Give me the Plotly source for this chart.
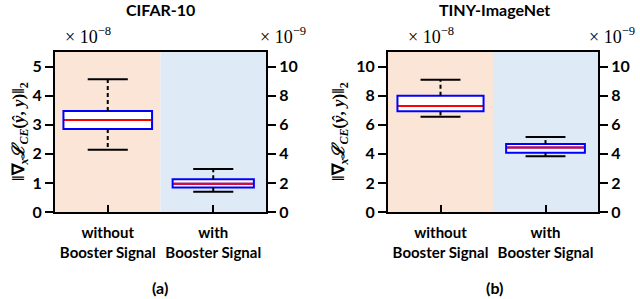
import plotly.graph_objects as go

# ---------------- data ----------------
categories = ["without<br>Booster Signal", "with<br>Booster Signal"]
positions = [0, 1]

# CIFAR-10 (left box on x1e-8 axis, right box on x1e-9 axis)
cifar_upper = [4.56, 2.95]
cifar_q3 = [3.47, 2.25]
cifar_median = [3.16, 1.95]
cifar_q1 = [2.85, 1.68]
cifar_lower = [2.14, 1.40]

# TINY-ImageNet
tiny_upper = [9.10, 5.15]
tiny_q3 = [8.00, 4.67]
tiny_median = [7.29, 4.43]
tiny_q1 = [6.92, 4.07]
tiny_lower = [6.55, 3.84]

left_ticks_a = [0, 1, 2, 3, 4, 5]
right_ticks = [0, 2, 4, 6, 8, 10]

# ---------------- styling ----------------
W, H = 640, 299
SANS = "Lato"
SERIF = "Liberation Serif"
PEACH = "#FBE5D6"
LIGHTBLUE = "#DEEBF7"


def px(X):
    return X / W


def py(Y):
    return 1 - Y / H


fig = go.Figure()


def add_box(xa, ya, pos, lo, q1, med, q3, hi, width, cap=0.38):
    fig.add_trace(go.Box(
        x=[pos], q1=[q1], median=[med], q3=[q3], lowerfence=[q1], upperfence=[q3],
        width=width, whiskerwidth=0, fillcolor="white",
        line=dict(color="#0000FF", width=2), boxpoints=False,
        xaxis=xa, yaxis=ya, showlegend=False, hoverinfo="skip"))
    fig.add_trace(go.Scatter(
        x=[pos, pos, None, pos, pos], y=[q3, hi, None, q1, lo], mode="lines",
        line=dict(color="black", width=2, dash="4px,3px"),
        xaxis=xa, yaxis=ya, showlegend=False, hoverinfo="skip"))
    fig.add_trace(go.Scatter(
        x=[pos - cap / 2, pos + cap / 2, None, pos - cap / 2, pos + cap / 2],
        y=[hi, hi, None, lo, lo], mode="lines",
        line=dict(color="black", width=2),
        xaxis=xa, yaxis=ya, showlegend=False, hoverinfo="skip"))
    fig.add_trace(go.Scatter(
        x=[pos - width / 2 + 0.01, pos + width / 2 - 0.01], y=[med, med], mode="lines",
        line=dict(color="#FF0000", width=2),
        xaxis=xa, yaxis=ya, showlegend=False, hoverinfo="skip"))


widths_a = [0.84, 0.77]
widths_b = [0.82, 0.75]
yax_a = ["y", "y2"]
yax_b = ["y3", "y4"]
for i, p in enumerate(positions):
    add_box("x", yax_a[i], p, cifar_lower[i], cifar_q1[i], cifar_median[i],
            cifar_q3[i], cifar_upper[i], widths_a[i])
    add_box("x2", yax_b[i], p, tiny_lower[i], tiny_q1[i], tiny_median[i],
            tiny_q3[i], tiny_upper[i], widths_b[i])

shapes = []
for xr, yr in [("x", "y"), ("x2", "y3")]:
    shapes.append(dict(type="rect", xref=xr, yref=yr + " domain", x0=-0.5, x1=0.5,
                       y0=0, y1=1, fillcolor=PEACH, line=dict(width=0), layer="below"))
    shapes.append(dict(type="rect", xref=xr, yref=yr + " domain", x0=0.5, x1=1.5,
                       y0=0, y1=1, fillcolor=LIGHTBLUE, line=dict(width=0), layer="below"))

ydom = [py(212), py(52)]
tickfont = dict(family=SANS, size=16, color="black")
xtickfont = dict(family=SANS, size=15, color="black")

xcommon = dict(range=[-0.5, 1.5], tickvals=positions, ticktext=["<b>%s</b>" % c for c in categories],
               ticks="inside", ticklen=7, tickwidth=2, tickcolor="black", ticklabelstandoff=6,
               showline=True, linecolor="black", linewidth=2, mirror=True, automargin=False,
               showgrid=False, zeroline=False, tickfont=xtickfont, fixedrange=True)
ycommon = dict(ticks="outside", ticklen=8, tickwidth=2, tickcolor="black",
               showline=True, linecolor="black", linewidth=2, automargin=False,
               showgrid=False, zeroline=False, tickfont=tickfont, domain=ydom)

fig.update_layout(
    width=W, height=H,
    margin=dict(l=0, r=0, t=0, b=0, pad=0, autoexpand=False),
    paper_bgcolor="white", plot_bgcolor="white",
    shapes=shapes,
    xaxis=dict(domain=[px(55), px(266)], anchor="y", **xcommon),
    xaxis2=dict(domain=[px(388), px(598)], anchor="y3", **xcommon),
    yaxis=dict(range=[0, 5.5], tickvals=left_ticks_a,
               ticktext=["<b>%d</b>" % t for t in left_ticks_a], anchor="x", mirror=True, **ycommon),
    yaxis2=dict(range=[0, 11], tickvals=right_ticks,
                ticktext=["<b>%d</b>" % t for t in right_ticks],
                overlaying="y", side="right", anchor="x", **ycommon),
    yaxis3=dict(range=[0, 11], tickvals=right_ticks,
                ticktext=["<b>%d</b>" % t for t in right_ticks], anchor="x2", mirror=True, **ycommon),
    yaxis4=dict(range=[0, 11], tickvals=right_ticks,
                ticktext=["<b>%d</b>" % t for t in right_ticks],
                overlaying="y3", side="right", anchor="x2", **ycommon),
)

ylabel = "<b>‖∇<sub><i>x</i></sub><i>ℒ</i><sub><i>CE</i></sub>(<i>ŷ</i>, <i>y</i>)‖<sub>2</sub></b>"
ann = []


def add_text(text, X, Y, font, angle=0):
    ann.append(dict(text=text, x=px(X), y=py(Y), xref="paper", yref="paper",
                    xanchor="center", yanchor="middle", textangle=angle,
                    showarrow=False, font=font))


titlefont = dict(family=SANS, size=16, color="black")
add_text("<b>CIFAR-10</b>", 160, 10, titlefont)
add_text("<b>TINY-ImageNet</b>", 494, 10, titlefont)
add_text("<b>(a)</b>", 160, 287, titlefont)
add_text("<b>(b)</b>", 494, 287, titlefont)
expfont = dict(family=SERIF, size=18, color="black")
for xc, e in [(88, "8"), (283, "9"), (431, "8"), (612, "9")]:
    add_text("× 10<sup>−%s</sup>" % e, xc, 35, expfont)
labfont = dict(family=SERIF, size=17, color="black")
for xc in [20, 340]:
    add_text(ylabel, xc, 132, labfont, angle=-90)
fig.update_layout(annotations=ann)

fig.write_html("out.html", config={"displayModeBar": False},
               post_script="document.body.style.margin='0';document.body.style.overflow='hidden';")
